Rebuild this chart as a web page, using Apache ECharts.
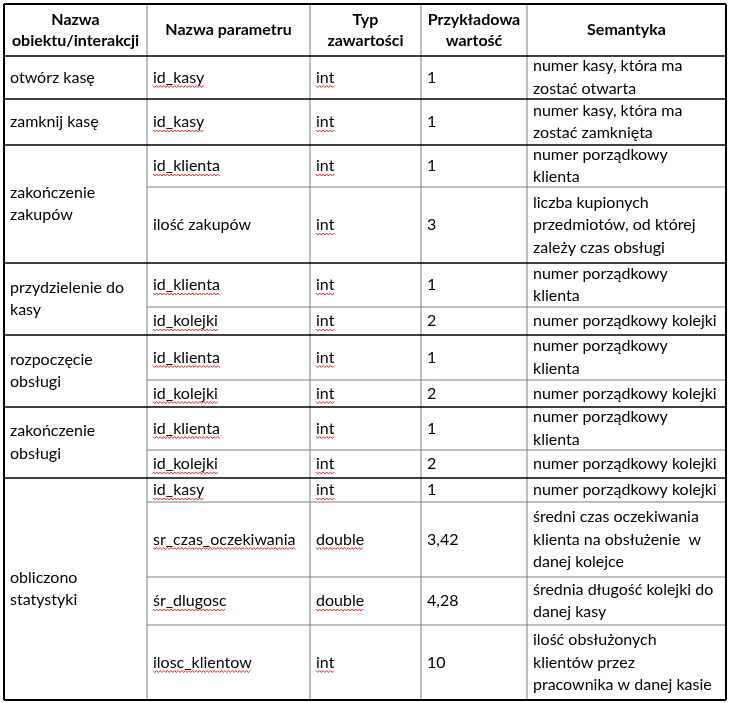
<!DOCTYPE html>
<html>
<head>
<meta charset="utf-8">
<script src="https://cdn.jsdelivr.net/npm/echarts@6/dist/echarts.min.js"></script>
<style>
html, body { margin: 0; padding: 0; background: #fff; }
#chart { width: 731px; height: 703px; }
</style>
</head>
<body>
<div id="chart"></div>
<script>
var headers = ['Nazwa\nobiektu/interakcji', 'Nazwa parametru', 'Typ\nzawartości', 'Przykładowa\nwartość', 'Semantyka'];
var objects = ['otwórz kasę', 'zamknij kasę', 'zakończenie\nzakupów', 'przydzielenie do\nkasy',
    'rozpoczęcie\nobsługi', 'zakończenie\nobsługi', 'obliczono\nstatystyki'];
var groupSizes = [1, 1, 2, 2, 2, 2, 4];
var params = ['id_kasy', 'id_kasy', 'id_klienta', 'ilość zakupów', 'id_klienta', 'id_kolejki',
    'id_klienta', 'id_kolejki', 'id_klienta', 'id_kolejki', 'id_kasy', 'sr_czas_oczekiwania',
    'śr_dlugosc', 'ilosc_klientow'];
var types = ['int', 'int', 'int', 'int', 'int', 'int', 'int', 'int', 'int', 'int', 'int',
    'double', 'double', 'int'];
var values = ['1', '1', '1', '3', '1', '2', '1', '2', '1', '2', '1', '3,42', '4,28', '10'];
var semantics = [
    'numer kasy, która ma\nzostać otwarta',
    'numer kasy, która ma\nzostać zamknięta',
    'numer porządkowy\nklienta',
    'liczba kupionych\nprzedmiotów, od której\nzależy czas obsługi',
    'numer porządkowy\nklienta',
    'numer porządkowy kolejki',
    'numer porządkowy\nklienta',
    'numer porządkowy kolejki',
    'numer porządkowy\nklienta',
    'numer porządkowy kolejki',
    'numer porządkowy kolejki',
    'średni czas oczekiwania\nklienta na obsłużenie  w\ndanej kolejce',
    'średnia długość kolejki do\ndanej kasy',
    'ilość obsłużonych\nklientów przez\npracownika w danej kasie'
];

// table layout (in a 731 x 703 frame)
var colEdges = [4, 147, 310, 421, 527, 726];
var rowEdges = [4, 56, 99, 145, 187, 263, 307, 335, 380, 407, 450, 478, 502, 577, 625, 700];

var FONT_FAMILY = 'Lato';
var FONT_SIZE = 16;
var measureCtx = document.createElement('canvas').getContext('2d');
measureCtx.font = FONT_SIZE + 'px ' + FONT_FAMILY;

// cells: [col, rowStart, rowEnd, text, kind]  kind: 0 body, 1 header, 2 body with spell-check squiggle
var cells = [];
headers.forEach(function (h, c) {
    cells.push([c, 0, 1, h, 1]);
});
var groupStarts = [1];
var r = 1;
objects.forEach(function (name, g) {
    cells.push([0, r, r + groupSizes[g], name, 0]);
    r += groupSizes[g];
    groupStarts.push(r);
});
var cols = [params, types, values, semantics];
params.forEach(function (p, i) {
    cols.forEach(function (arr, k) {
        var wavy = (k === 0 && arr[i].indexOf('_') >= 0) || k === 1;
        cells.push([k + 1, i + 1, i + 2, arr[i], wavy ? 2 : 0]);
    });
});

// lines: [x0, y0, x1, y1, kind]  kind: 0 grey, 1 black, 2 outer
var lines = [];
var last = rowEdges.length - 1;
for (var i = 1; i < last; i++) {
    if (groupStarts.indexOf(i) < 0) {
        lines.push([colEdges[1], rowEdges[i], colEdges[5], rowEdges[i], 0]);
    }
}
for (var c = 1; c < colEdges.length - 1; c++) {
    lines.push([colEdges[c], rowEdges[0], colEdges[c], rowEdges[last], 0]);
}
groupStarts.forEach(function (gi) {
    if (gi < last) lines.push([colEdges[0], rowEdges[gi], colEdges[5], rowEdges[gi], 1]);
});
lines.push([colEdges[0], rowEdges[0], colEdges[5], rowEdges[0], 2]);
lines.push([colEdges[0], rowEdges[last], colEdges[5], rowEdges[last], 2]);
lines.push([colEdges[0], rowEdges[0], colEdges[0], rowEdges[last], 2]);
lines.push([colEdges[5], rowEdges[0], colEdges[5], rowEdges[last], 2]);

function renderCell(params, api) {
    var d = cells[params.dataIndex];
    var p0 = api.coord([colEdges[d[0]], rowEdges[d[1]]]);
    var p1 = api.coord([colEdges[d[0] + 1], rowEdges[d[2]]]);
    var head = d[4] === 1;
    var cy = (p0[1] + p1[1]) / 2;
    var x = head ? (p0[0] + p1[0]) / 2 : p0[0] + 6;
    var children = [{
        type: 'text',
        style: {
            text: d[3],
            x: x,
            y: cy,
            align: head ? 'center' : 'left',
            verticalAlign: 'middle',
            fontFamily: FONT_FAMILY,
            fontSize: FONT_SIZE,
            fontWeight: head ? 'bold' : 'normal',
            lineHeight: head ? 21 : 22.5,
            fill: '#000'
        }
    }];
    if (d[4] === 2) {
        var w = measureCtx.measureText(d[3]).width;
        var pts = [];
        var by = cy + 9;
        for (var k = 0, s = 0; s <= w; k++, s += 1.8) {
            pts.push([x + s, by + (k % 2 ? 1 : -1)]);
        }
        children.push({
            type: 'polyline',
            shape: { points: pts },
            style: { stroke: '#e0302a', lineWidth: 1, fill: null }
        });
    }
    return { type: 'group', children: children };
}

function renderLine(params, api) {
    var d = lines[params.dataIndex];
    var a = api.coord([d[0], d[1]]);
    var b = api.coord([d[2], d[3]]);
    var color = d[4] === 0 ? '#7f7f7f' : '#000';
    var width = d[4] === 2 ? 2 : (d[4] === 1 ? 1.3 : 1);
    return {
        type: 'line',
        shape: { x1: a[0], y1: a[1], x2: b[0], y2: b[1] },
        style: { stroke: color, lineWidth: width }
    };
}

var dom = document.getElementById('chart');
var myChart = echarts.init(dom, null, { renderer: 'canvas' });
var option = {
    backgroundColor: '#fff',
    animation: false,
    grid: { left: 0, right: 0, top: 0, bottom: 0 },
    xAxis: { type: 'value', min: 0, max: 731, show: false },
    yAxis: { type: 'value', min: 0, max: 703, inverse: true, show: false },
    series: [
        {
            type: 'custom',
            renderItem: renderLine,
            data: lines.map(function (l) { return [l[0], l[1]]; }),
            silent: true
        },
        {
            type: 'custom',
            renderItem: renderCell,
            data: cells.map(function (d) { return [colEdges[d[0]], rowEdges[d[1]]]; }),
            silent: true
        }
    ]
};
myChart.setOption(option);
window.addEventListener('resize', myChart.resize);
</script>
</body>
</html>
